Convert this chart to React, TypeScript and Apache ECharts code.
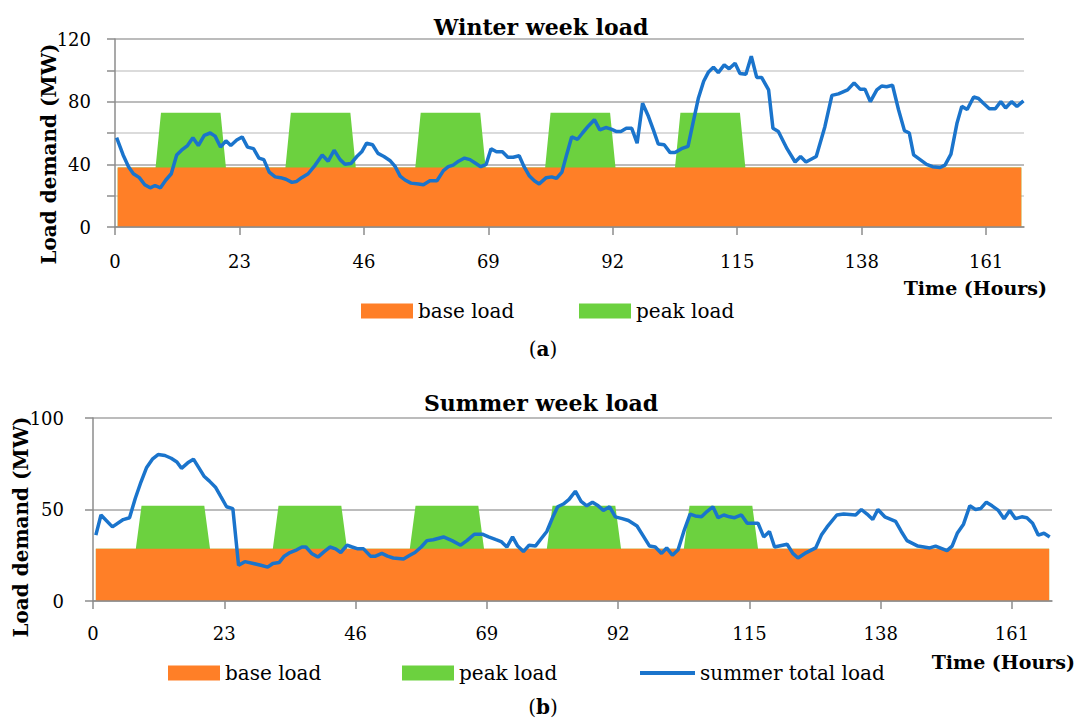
import React, { useEffect, useRef } from "react";
import * as echarts from "echarts";

// ---------- data ----------
const tickHours = [0, 23, 46, 69, 92, 115, 138, 161];
const hourSlots = 168;
const peakDays = [0, 1, 2, 3, 4];
const peakFirstHour = 8;
const peakLastHour = 19;

const winterBaseLoad = 38;
const winterPeakLoad = 35;
const summerBaseLoad = 28.5;
const summerPeakLoad = 23.5;

const winterTotalLoad: [number, number][] = [
  [0.3, 57], [1.5, 46], [2.5, 38.5], [3.4, 34], [4.5, 31.5], [5.5, 27], [6.5, 25], [7.4, 26.5], [8.4, 25], [9.4, 30],
  [10.4, 34], [11.4, 46], [12.3, 49], [13.4, 52], [14.4, 57], [15.4, 52], [16.5, 58.5], [17.6, 60], [18.5, 58], [19.5, 51],
  [20.5, 55], [21.4, 52], [22.5, 55.5], [23.5, 57.5], [24.5, 51], [25.6, 50], [26.6, 44], [27.5, 43], [28.5, 35], [29.6, 32],
  [30.6, 31.5], [31.6, 30.5], [32.7, 28.5], [33.5, 29], [34.5, 31.5], [35.7, 34], [37, 39.5], [38.3, 46], [39.4, 42], [40.5, 49],
  [41.6, 43], [42.5, 40], [43.6, 40.5], [44.7, 45], [45.6, 48], [46.5, 53.5], [47.6, 52.5], [48.6, 47], [49.7, 45], [50.8, 42.5],
  [51.8, 38.5], [52.7, 32.5], [53.6, 30], [54.7, 28], [56.1, 27.5], [57, 27], [58.2, 29.5], [59.5, 29.5], [60.7, 36], [61.6, 38.5],
  [62.5, 39.5], [63.5, 42], [64.6, 44], [65.6, 43], [66.5, 41], [67.6, 38.5], [68.6, 40], [69.5, 50], [70.5, 48], [71.6, 48],
  [72.6, 44.5], [73.6, 44.5], [74.7, 45.5], [75.6, 38.5], [76.6, 32.5], [77.5, 29.5], [78.4, 27.5], [79.7, 31.5], [80.7, 32], [81.6, 31],
  [82.6, 35], [83.5, 46.5], [84.4, 57.5], [85.5, 56], [86.4, 60], [87.5, 64.5], [88.6, 68.5], [89.6, 62], [90.7, 63.5], [91.7, 62.5],
  [92.6, 61], [93.5, 61], [94.5, 63], [95.5, 63], [96.5, 53.5], [97.5, 79], [98.6, 70.5], [99.5, 62], [100.4, 53], [101.5, 52.5],
  [102.6, 47.5], [103.5, 47.5], [104.7, 50], [105.9, 51.5], [106.8, 66], [107.8, 82], [108.8, 93], [109.7, 99], [110.6, 102], [111.5, 98.5],
  [112.6, 103.5], [113.5, 101], [114.6, 104.5], [115.5, 98], [116.6, 97.5], [117.6, 109], [118.6, 95.5], [119.5, 95.5], [120.8, 87.5], [121.6, 63],
  [122.6, 61], [124.2, 50], [125.7, 41.5], [126.7, 45], [127.7, 41.5], [129.6, 45], [131.2, 64], [132.5, 84], [133.7, 85], [135.4, 87.5],
  [136.6, 92], [137.7, 88], [138.6, 88], [139.6, 80], [140.8, 87.5], [141.7, 90], [142.6, 89.5], [143.7, 90.5], [144.8, 75], [145.9, 61.5],
  [146.8, 60], [147.6, 46], [148.8, 43], [150, 40], [151.1, 38.5], [152.5, 38], [153.4, 39.5], [154.5, 46.5], [155.6, 66], [156.5, 77],
  [157.5, 75], [158.7, 83], [159.6, 82], [160.5, 79], [161.6, 75.5], [162.7, 75.5], [163.7, 80], [164.6, 76], [165.7, 80], [166.7, 77],
  [167.9, 80.5],
];

const summerTotalLoad: [number, number][] = [
  [0.5, 36], [1.4, 47], [3.4, 40.5], [5.3, 44.5], [6.4, 45.5], [7.4, 56], [8.4, 65], [9.4, 73], [10.4, 77.5], [11.4, 80],
  [12.6, 79.5], [13.7, 78], [14.7, 76], [15.5, 72.5], [16.6, 75.5], [17.6, 77.5], [18.5, 73], [19.5, 68], [20.4, 65.5], [21.5, 62],
  [22.4, 57], [23.4, 51.5], [24.5, 50.5], [25.5, 19.5], [26.6, 21.5], [28.1, 20.5], [29.4, 19.5], [30.6, 18.5], [31.5, 20.5], [32.6, 21],
  [33.5, 24.5], [34.5, 26.5], [35.7, 28], [36.6, 29.5], [37.3, 29.5], [38.3, 26], [39.4, 24], [40.5, 27], [41.5, 29.5], [42.5, 28.5],
  [43.4, 26.5], [44.5, 30.5], [45.4, 29.5], [46.4, 28.5], [47.4, 28.5], [48.6, 24.5], [49.5, 24.5], [50.6, 26], [51.6, 24.5], [52.6, 23.5],
  [54.4, 23], [55.5, 25], [56.4, 26.5], [57.5, 29.5], [58.5, 33], [59.6, 33.5], [61.4, 35], [62.9, 33], [64.4, 30.5], [65.5, 33],
  [66.8, 36.5], [68.2, 36.5], [69.3, 35], [70.6, 33.5], [71.5, 32.5], [72.5, 29.5], [73.5, 35], [74.4, 30], [75.4, 27], [76.4, 30.5],
  [77.5, 30], [78.5, 34], [79.5, 38], [80.5, 45.5], [81.4, 51.5], [82.4, 53], [83.4, 55.5], [84.5, 60], [85.5, 54.5], [86.5, 52],
  [87.5, 54], [88.5, 52], [89.4, 49.5], [90.5, 51.5], [91.5, 46], [92.7, 45], [93.8, 44], [95.3, 41], [96.3, 36], [97.5, 30],
  [98.5, 29.5], [99.6, 26], [100.5, 29], [101.5, 25], [102.5, 28], [103.5, 38], [104.6, 47.5], [105.5, 46.5], [106.6, 46], [107.6, 49],
  [108.6, 51.5], [109.5, 45.5], [110.5, 47], [111.5, 46], [112.4, 45.5], [113.6, 47], [114.6, 42.5], [116.5, 42.5], [117.5, 35], [118.5, 38],
  [119.4, 29.5], [121.6, 31], [122.6, 26], [123.5, 23.5], [124.7, 26], [126.6, 29], [127.6, 36], [128.6, 40.5], [130.3, 47], [131.5, 47.5],
  [133.6, 47], [134.6, 50], [135.6, 47.5], [136.6, 44.5], [137.5, 50], [138.7, 46], [140.6, 43.5], [141.6, 38], [142.6, 33], [144.5, 30],
  [146.6, 29], [147.6, 30], [149.6, 27.5], [150.5, 30], [151.4, 37], [152.5, 42], [153.6, 52], [154.6, 50], [155.5, 50.5], [156.5, 54],
  [157.5, 52], [158.6, 49.5], [159.6, 45], [160.6, 49.5], [161.6, 45], [162.7, 46], [163.6, 45.5], [164.6, 42.5], [165.6, 36], [166.6, 37],
  [167.6, 35],
];

// ---------- helpers ----------
function isPeakHour(h: number) {
  const day = Math.floor(h / 24);
  const hod = h % 24;
  return peakDays.includes(day) && hod >= peakFirstHour && hod <= peakLastHour;
}
function baseProfile(level: number) {
  const out: [number, number][] = [];
  for (let h = 0; h < hourSlots; h++) out.push([h + 0.5, level]);
  return out;
}
// peak load is stacked on top of the base load (drawn underneath the base area)
function stackedPeakProfile(base: number, peak: number) {
  const out: [number, number][] = [];
  for (let h = 0; h < hourSlots; h++) out.push([h + 0.5, isPeakHour(h) ? base + peak : base]);
  return out;
}

const SERIF = "'DejaVu Serif', serif";
const ORANGE = "#FF7F27";
const GREEN = "#6CD13F";
const BLUE = "#1A74CC";
const AXIS_GRAY = "#8c8c8c";

function xAxisCfg(gridIndex: number, margin: number) {
  return {
    type: "value",
    gridIndex,
    min: 0,
    max: hourSlots,
    z: 3,
    axisLine: { show: true, lineStyle: { color: AXIS_GRAY, width: 1.5 } },
    axisTick: { show: true, customValues: tickHours, length: 8, lineStyle: { color: AXIS_GRAY, width: 1.5 } },
    axisLabel: { customValues: tickHours, margin, color: "#000", fontFamily: SERIF, fontSize: 18 },
    splitLine: { show: false },
  };
}

function areaSeries(name: string, axis: number, color: string, data: [number, number][], z: number) {
  return {
    name, type: "line", xAxisIndex: axis, yAxisIndex: axis, z,
    symbol: "none", showSymbol: false, lineStyle: { width: 0 }, itemStyle: { color },
    areaStyle: { color, opacity: 1 }, data,
  };
}

export default function App() {
  const ref = useRef<HTMLDivElement>(null);
  useEffect(() => {
    document.body.style.margin = "0";
    if (!ref.current) return;
    const chart = echarts.init(ref.current, undefined, { renderer: "svg" });
    const legendCommon = {
      padding: 0,
      itemWidth: 52,
      itemHeight: 15,
      selectedMode: false,
      textStyle: { fontFamily: SERIF, fontSize: 20, color: "#000" },
    };
    chart.setOption({
      animation: false,
      backgroundColor: "#fff",
      grid: [
        { left: 115, top: 39, width: 909, height: 188 },
        { left: 93, top: 418, width: 959, height: 183 },
      ],
      xAxis: [xAxisCfg(0, 25), xAxisCfg(1, 23)],
      yAxis: [
        {
          type: "value",
          gridIndex: 0,
          min: 0,
          max: 120,
          interval: 40,
          axisLine: { show: true, lineStyle: { color: AXIS_GRAY, width: 1.5 } },
          axisTick: { show: true, length: 8, lineStyle: { color: AXIS_GRAY, width: 1.5 } },
          minorTick: { show: true, splitNumber: 2, length: 8, lineStyle: { color: AXIS_GRAY, width: 1.5 } },
          minorSplitLine: { show: true, lineStyle: { color: "#cfcfcf", width: 1.5 } },
          splitLine: { show: true, lineStyle: { color: "#a6a6a6", width: 1.5 } },
          axisLabel: { margin: 24, color: "#000", fontFamily: SERIF, fontSize: 18 },
        },
        {
          type: "value",
          gridIndex: 1,
          min: 0,
          max: 100,
          interval: 50,
          axisLine: { show: true, lineStyle: { color: AXIS_GRAY, width: 1.5 } },
          axisTick: { show: true, length: 8, lineStyle: { color: AXIS_GRAY, width: 1.5 } },
          splitLine: { show: true, lineStyle: { color: "#a6a6a6", width: 1.5 } },
          axisLabel: { margin: 29, color: "#000", fontFamily: SERIF, fontSize: 18 },
        },
      ],
      legend: [
        { ...legendCommon, left: 361, top: 301, data: [{ name: "base load", icon: "rect" }] },
        { ...legendCommon, left: 579, top: 301, data: [{ name: "peak load", icon: "rect" }] },
        { ...legendCommon, left: 168, top: 663, data: [{ name: "base load", icon: "rect" }] },
        { ...legendCommon, left: 402, top: 663, data: [{ name: "peak load", icon: "rect" }] },
        { ...legendCommon, left: 640, top: 663, itemWidth: 55, itemHeight: 4, data: [{ name: "summer total load", icon: "rect" }] },
      ],
      series: [
        areaSeries("peak load", 0, GREEN, stackedPeakProfile(winterBaseLoad, winterPeakLoad), 2),
        areaSeries("base load", 0, ORANGE, baseProfile(winterBaseLoad), 3),
        {
          name: "winter total load", type: "line", xAxisIndex: 0, yAxisIndex: 0,
          symbol: "none", lineStyle: { width: 3.5, color: BLUE }, itemStyle: { color: BLUE },
          data: winterTotalLoad, z: 4,
        },
        areaSeries("peak load", 1, GREEN, stackedPeakProfile(summerBaseLoad, summerPeakLoad), 2),
        areaSeries("base load", 1, ORANGE, baseProfile(summerBaseLoad), 3),
        {
          name: "summer total load", type: "line", xAxisIndex: 1, yAxisIndex: 1,
          symbol: "none", lineStyle: { width: 3.5, color: BLUE }, itemStyle: { color: BLUE },
          data: summerTotalLoad, z: 4,
        },
      ],
      graphic: [
        { type: "text", x: 541, y: 27, style: { text: "Winter week load", font: `bold 22px ${SERIF}`, fill: "#000", textAlign: "center", textVerticalAlign: "middle" } },
        { type: "text", x: 541, y: 403, style: { text: "Summer week load", font: `bold 22px ${SERIF}`, fill: "#000", textAlign: "center", textVerticalAlign: "middle" } },
        { type: "text", x: 49, y: 154, rotation: Math.PI / 2, style: { text: "Load demand (MW)", font: `bold 20px ${SERIF}`, fill: "#000", textAlign: "center", textVerticalAlign: "middle" } },
        { type: "text", x: 21, y: 527, rotation: Math.PI / 2, style: { text: "Load demand (MW)", font: `bold 20px ${SERIF}`, fill: "#000", textAlign: "center", textVerticalAlign: "middle" } },
        { type: "text", x: 1047, y: 288, style: { text: "Time (Hours)", font: `bold 19px ${SERIF}`, fill: "#000", textAlign: "right", textVerticalAlign: "middle" } },
        { type: "text", x: 1075, y: 662, style: { text: "Time (Hours)", font: `bold 19px ${SERIF}`, fill: "#000", textAlign: "right", textVerticalAlign: "middle" } },
        {
          type: "text", x: 543, y: 349,
          style: {
            text: "{n|(}{b|a}{n|)}", textAlign: "center", textVerticalAlign: "middle",
            rich: { n: { fontFamily: SERIF, fontSize: 20, fill: "#000" }, b: { fontFamily: SERIF, fontSize: 20, fontWeight: "bold", fill: "#000" } },
          },
        },
        {
          type: "text", x: 543, y: 707,
          style: {
            text: "{n|(}{b|b}{n|)}", textAlign: "center", textVerticalAlign: "middle",
            rich: { n: { fontFamily: SERIF, fontSize: 20, fill: "#000" }, b: { fontFamily: SERIF, fontSize: 20, fontWeight: "bold", fill: "#000" } },
          },
        },
      ],
    });
    return () => chart.dispose();
  }, []);
  return <div ref={ref} style={{ width: 1079, height: 718 }} />;
}
